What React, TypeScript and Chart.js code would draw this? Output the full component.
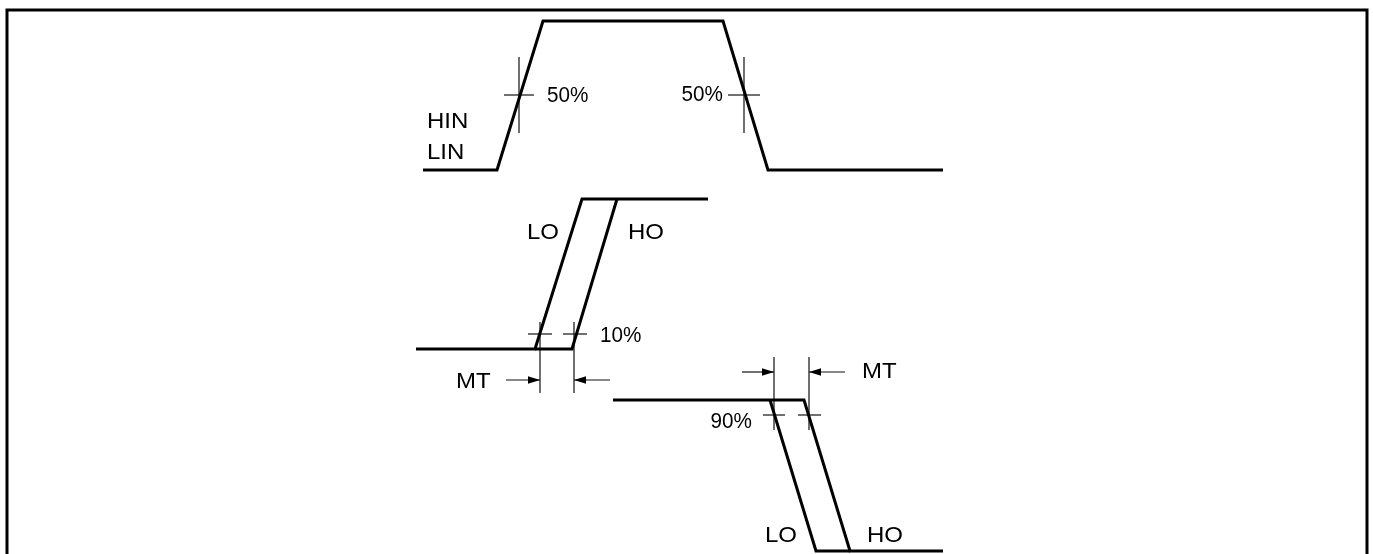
import React, { useEffect, useRef } from 'react';
import { Chart, registerables } from 'chart.js';
Chart.register(...registerables);

// Frame
const FRAME_X = [7, 7, 1367, 1367];
const FRAME_Y = [560, 10, 10, 560];

// HIN / LIN input waveform
const HIN_X = [423, 497, 543, 723, 768, 943];
const HIN_Y = [170, 170, 21, 21, 170, 170];

// Rising outputs
const LO_RISE_X = [416, 535, 582, 708];
const LO_RISE_Y = [349, 349, 199, 199];
const HO_RISE_X = [535, 572, 617];
const HO_RISE_Y = [349, 349, 199];

// Falling outputs
const HO_FALL_X = [613, 804, 850, 943];
const HO_FALL_Y = [400, 400, 551, 551];
const LO_FALL_X = [770, 816, 850];
const LO_FALL_Y = [400, 551, 551];

// Thin marker segments [x1, y1, x2, y2]
const MARKERS: number[][] = [
  [519, 57, 519, 133], [504, 95, 534, 95],
  [744, 57, 744, 133], [728, 95, 760, 95],
  [540, 322, 540, 393], [574, 322, 574, 393],
  [528, 334, 552, 334], [563, 334, 587, 334],
  [774, 357, 774, 430], [809, 357, 809, 430],
  [763, 415, 785, 415], [798, 415, 821, 415],
];

// Arrows [fromX, fromY, tipX, tipY]
const ARROWS: number[][] = [
  [506, 380, 540, 380], [610, 380, 574, 380],
  [742, 372, 774, 372], [845, 372, 809, 372],
];

// Labels
const LABEL_TEXT = ['HIN', 'LIN', '50%', '50%', 'LO', 'HO', '10%', 'MT', 'MT', '90%', 'LO', 'HO'];
const LABEL_X = [427, 427, 547, 723, 527, 628, 600, 456, 862, 752, 765, 867];
const LABEL_Y = [128, 159, 102, 101, 239, 239, 342, 388, 378, 428, 542, 542];
const LABEL_ALIGN = ['left', 'left', 'left', 'right', 'left', 'left', 'left', 'left', 'left', 'right', 'left', 'left'];

const pts = (xs: number[], ys: number[]) => xs.map((x, i) => ({ x, y: ys[i] }));

const line = (data: { x: number; y: number }[], w: number, color = '#000') => ({
  data,
  showLine: true,
  borderColor: color,
  backgroundColor: color,
  borderWidth: w,
  pointRadius: 0,
  pointHoverRadius: 0,
  fill: false,
  tension: 0,
  borderJoinStyle: 'miter' as const,
  borderCapStyle: 'butt' as const,
});

const overlay = {
  id: 'overlay',
  afterDatasetsDraw(chart: any) {
    const { ctx, scales } = chart;
    const xs = scales.x, ys = scales.y;
    ctx.save();
    ctx.fillStyle = '#000';
    // arrowheads
    ARROWS.forEach(([fx, fy, tx, ty]) => {
      const px = xs.getPixelForValue(tx), py = ys.getPixelForValue(ty);
      const sx = xs.getPixelForValue(fx), sy = ys.getPixelForValue(fy);
      const ang = Math.atan2(py - sy, px - sx);
      const L = 12, H = 3.8;
      ctx.beginPath();
      ctx.moveTo(px, py);
      ctx.lineTo(px - L * Math.cos(ang) + H * Math.sin(ang), py - L * Math.sin(ang) - H * Math.cos(ang));
      ctx.lineTo(px - L * Math.cos(ang) - H * Math.sin(ang), py - L * Math.sin(ang) + H * Math.cos(ang));
      ctx.closePath();
      ctx.fill();
    });
    // labels
    ctx.font = '22px "Liberation Sans", Arial, sans-serif';
    ctx.textBaseline = 'alphabetic';
    LABEL_TEXT.forEach((t, i) => {
      const px = xs.getPixelForValue(LABEL_X[i]);
      const py = ys.getPixelForValue(LABEL_Y[i]);
      const isPct = t.includes('%');
      const sc = isPct ? 0.94 : 1.09;
      ctx.save();
      ctx.translate(px, py);
      ctx.scale(sc, 1);
      ctx.textAlign = LABEL_ALIGN[i];
      ctx.fillText(t, 0, 0);
      ctx.restore();
    });
    ctx.restore();
  },
};

export default function App() {
  const ref = useRef<HTMLCanvasElement>(null);
  useEffect(() => {
    const datasets: any[] = [
      line(pts(FRAME_X, FRAME_Y), 3),
      line(pts(HIN_X, HIN_Y), 3),
      line(pts(LO_RISE_X, LO_RISE_Y), 3),
      line(pts(HO_RISE_X, HO_RISE_Y), 3),
      line(pts(HO_FALL_X, HO_FALL_Y), 3),
      line(pts(LO_FALL_X, LO_FALL_Y), 3),
      ...MARKERS.map((m) => line([{ x: m[0], y: m[1] }, { x: m[2], y: m[3] }], 1.2, '#111')),
      ...ARROWS.map((a) => line([{ x: a[0], y: a[1] }, { x: a[2], y: a[3] }], 1.2, '#111')),
    ];
    const chart = new Chart(ref.current!, {
      type: 'scatter',
      data: { datasets },
      options: {
        animation: false,
        responsive: true,
        maintainAspectRatio: false,
        layout: { padding: 0 },
        plugins: { legend: { display: false }, tooltip: { enabled: false } },
        events: [],
        scales: {
          x: { type: 'linear', display: false, min: 0, max: 1373 },
          y: { type: 'linear', display: false, min: 0, max: 554, reverse: true },
        },
      },
      plugins: [overlay],
    });
    return () => chart.destroy();
  }, []);
  return (
    <div style={{ position: 'absolute', left: 0, top: 0, width: 1373, height: 554, background: '#fff' }}>
      <canvas ref={ref} />
    </div>
  );
}
